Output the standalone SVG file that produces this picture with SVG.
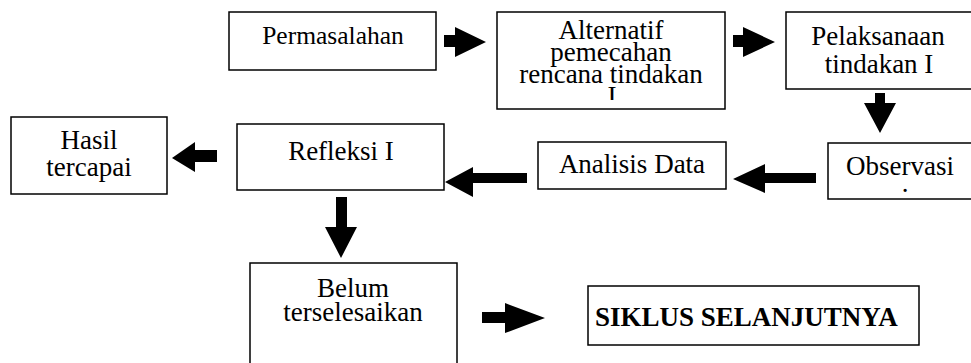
<svg xmlns="http://www.w3.org/2000/svg" width="971" height="363" viewBox="0 0 971 363">
<style>
.box{fill:#fff;stroke:#000;stroke-width:1.5}
.t{font-family:"Liberation Serif","Times New Roman",serif;font-size:27px;fill:#000;text-anchor:middle}
.b{font-weight:bold;text-anchor:start}
.arr{fill:#000;stroke:none}
</style>
<defs>
<clipPath id="clipAlt"><rect x="497" y="12" width="228" height="88"/></clipPath>
</defs>
<rect width="971" height="363" fill="#fff"/>
<g id="permasalahan">
<rect class="box" x="229" y="12" width="207" height="58"/>
<text class="t" x="333" y="44" style="font-size:25.5px">Permasalahan</text>
</g>
<g id="alternatif">
<rect class="box" x="497" y="12" width="228" height="97"/>
<text class="t" clip-path="url(#clipAlt)"><tspan x="611" y="39">Alternatif</tspan><tspan x="611" y="61">pemecahan</tspan><tspan x="611" y="83">rencana tindakan</tspan><tspan x="612" y="105">I</tspan></text>
</g>
<g id="pelaksanaan">
<rect class="box" x="786" y="12" width="190" height="77"/>
<text class="t"><tspan x="878" y="45">Pelaksanaan</tspan><tspan x="879" y="73">tindakan I</tspan></text>
</g>
<g id="observasi">
<rect class="box" x="828" y="143" width="148" height="56"/>
<text class="t"><tspan x="900" y="175">Observasi</tspan><tspan x="905" y="192">.</tspan></text>
</g>
<g id="analisis">
<rect class="box" x="538" y="142" width="188" height="47"/>
<text class="t" x="632" y="173">Analisis Data</text>
</g>
<g id="refleksi">
<rect class="box" x="237" y="124" width="207" height="66"/>
<text class="t" x="341" y="160">Refleksi I</text>
</g>
<g id="hasil">
<rect class="box" x="11" y="117" width="156" height="77"/>
<text class="t"><tspan x="89" y="149">Hasil</tspan><tspan x="89" y="176">tercapai</tspan></text>
</g>
<g id="belum">
<rect class="box" x="250" y="263" width="207" height="106"/>
<text class="t"><tspan x="353" y="297">Belum</tspan><tspan x="353" y="321">terselesaikan</tspan></text>
</g>
<g id="siklus">
<rect class="box" x="588" y="286" width="331" height="59"/>
<text class="t b" x="595" y="326">SIKLUS SELANJUTNYA</text>
</g>
<g id="connectors">
<polygon class="arr" points="444,35 455,35 455,27 486,42 455,57 455,47 444,47"/>
<polygon class="arr" points="733,35 743,35 743,27 775,42 743,57 743,47 733,47"/>
<polygon class="arr" points="875,93 885,93 885,103 896,103 880,133 864,103 875,103"/>
<polygon class="arr" points="816,173 765,173 765,164 733,179 765,193 765,183 816,183"/>
<polygon class="arr" points="527,173 473,173 473,167 445,182 473,197 473,183 527,183"/>
<polygon class="arr" points="217,150 195,150 195,142 172,158 195,172 195,162 217,162"/>
<polygon class="arr" points="336,197 347,197 347,227 357,227 341,258 325,227 336,227"/>
<polygon class="arr" points="482,312 505,312 505,303 545,318 505,333 505,323 482,323"/>
</g>
</svg>
